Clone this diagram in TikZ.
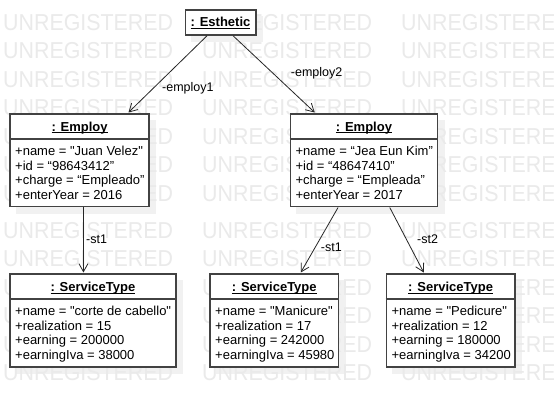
\documentclass[tikz,border=0pt]{standalone}
\usepackage{fontspec}
\setmainfont{Liberation Sans}[Ligatures=TeXOff]
\usetikzlibrary{arrows.meta}
\pgfdeclarelayer{bglayer}
\pgfdeclarelayer{shadowlayer}
\pgfdeclarelayer{wmlayer}
\pgfsetlayers{bglayer,shadowlayer,wmlayer,main}
\definecolor{wmgray}{RGB}{234,234,234}
\definecolor{shadowgray}{RGB}{241,241,241}
\definecolor{boxline}{RGB}{66,66,66}
\newcommand\ulbox[1]{\setbox0\hbox{#1}\rlap{\rule[-1.9pt]{\wd0}{0.9pt}}\box0}
\tikzset{
  objbox/.style={draw=boxline, line width=1.5pt, fill=white, inner sep=0pt, anchor=north west},
  sepline/.style={draw=boxline, line width=1.5pt},
  titletext/.style={font=\fontsize{13}{15}\selectfont\bfseries, inner sep=0pt, anchor=base},
  attr/.style={font=\fontsize{13}{15}\selectfont, inner sep=0pt, anchor=base west},
  lbl/.style={font=\fontsize{12.5}{15}\selectfont, inner sep=0pt, anchor=base west},
  link/.style={draw=black!85, line width=0.8pt, -{Straight Barb[length=8pt,width=9pt]}},
  wm/.style={font=\fontsize{23}{23}\selectfont, text=wmgray, inner sep=0pt, anchor=west},
  shadowbox/.style={fill=shadowgray},
}
\begin{document}
\begin{tikzpicture}[x=1pt,y=-1pt]
\useasboundingbox (0,0) rectangle (554,406);
\clip (0,0) rectangle (554,406);
\begin{pgfonlayer}{bglayer}
\fill[white] (0,0) rectangle (554,406);
\end{pgfonlayer}

% watermark
\begin{pgfonlayer}{wmlayer}
\foreach \r in {0,...,6}{
  \foreach \c in {0,1,2}{
    \node[wm] (wma-\r-\c) at ({3+199*\c},{22.5+28.5*\r}) {\scalebox{0.93}[1]{UNREGISTERED}};
  }
}
\foreach \r in {0,...,5}{
  \foreach \c in {0,1,2}{
    \node[wm] (wmb-\r-\c) at ({3+199*\c},{230.5+28.5*\r}) {\scalebox{0.93}[1]{UNREGISTERED}};
  }
}
\end{pgfonlayer}

% boxes
\node[objbox, minimum width=70.5pt, minimum height=25pt] (esth) at (184.5,9.3) {};
\node[objbox, minimum width=139pt, minimum height=92.7pt] (emp1) at (9.3,113.3) {};
\node[objbox, minimum width=147pt, minimum height=92.7pt] (emp2) at (289.7,113.3) {};
\node[objbox, minimum width=165.7pt, minimum height=92.7pt] (st1) at (9.3,273.3) {};
\node[objbox, minimum width=128.4pt, minimum height=92.7pt] (st2) at (209.3,273.3) {};
\node[objbox, minimum width=128.3pt, minimum height=92.7pt] (st3) at (385.7,273.3) {};

% shadows
\begin{pgfonlayer}{shadowlayer}
\foreach \b in {esth,emp1,emp2,st1,st2,st3}{
  \fill[shadowbox] ([xshift=6.5pt,yshift=-6.5pt]\b.north west) rectangle ([xshift=6.5pt,yshift=-6.5pt]\b.south east);
}
\end{pgfonlayer}

% header separators
\foreach \b in {emp1,emp2,st1,st2,st3}{
  \draw[sepline] ([yshift=-25.5pt]\b.north west) -- ([yshift=-25.5pt]\b.north east);
}

% titles
\node[titletext] (esth-t) at ([yshift=-17.6pt]esth.north) {\ulbox{: Esthetic}};
\node[titletext] (emp1-t) at ([yshift=-17.8pt]emp1.north) {\ulbox{: Employ}};
\node[titletext] (emp2-t) at ([yshift=-17.8pt]emp2.north) {\ulbox{: Employ}};
\node[titletext] (st1-t) at ([yshift=-18.2pt]st1.north) {\ulbox{: ServiceType}};
\node[titletext] (st2-t) at ([yshift=-18.2pt]st2.north) {\ulbox{: ServiceType}};
\node[titletext] (st3-t) at ([yshift=-18.2pt]st3.north) {\ulbox{: ServiceType}};

% attributes Employ 1
\node[attr] (emp1-a1) at ([xshift=5.7pt,yshift=52.2pt]emp1.south west) {+name = "Juan Velez"};
\node[attr] (emp1-a2) at ([xshift=5.7pt,yshift=37.4pt]emp1.south west) {+id = “98643412”};
\node[attr] (emp1-a3) at ([xshift=5.7pt,yshift=22.6pt]emp1.south west) {+charge = “Empleado”};
\node[attr] (emp1-a4) at ([xshift=5.7pt,yshift=7.8pt]emp1.south west) {+enterYear = 2016};
% attributes Employ 2
\node[attr] (emp2-a1) at ([xshift=5.7pt,yshift=52.2pt]emp2.south west) {+name = “Jea Eun Kim”};
\node[attr] (emp2-a2) at ([xshift=5.7pt,yshift=37.4pt]emp2.south west) {+id = “48647410”};
\node[attr] (emp2-a3) at ([xshift=5.7pt,yshift=22.6pt]emp2.south west) {+charge = “Empleada”};
\node[attr] (emp2-a4) at ([xshift=5.7pt,yshift=7.8pt]emp2.south west) {+enterYear = 2017};
% attributes ServiceType 1
\node[attr] (st1-a1) at ([xshift=5.7pt,yshift=52.2pt]st1.south west) {+name = "corte de cabello"};
\node[attr] (st1-a2) at ([xshift=5.7pt,yshift=37.4pt]st1.south west) {+realization = 15};
\node[attr] (st1-a3) at ([xshift=5.7pt,yshift=22.6pt]st1.south west) {+earning = 200000};
\node[attr] (st1-a4) at ([xshift=5.7pt,yshift=7.8pt]st1.south west) {+earningIva = 38000};
% attributes ServiceType 2
\node[attr] (st2-a1) at ([xshift=5.7pt,yshift=52.2pt]st2.south west) {+name = "Manicure"};
\node[attr] (st2-a2) at ([xshift=5.7pt,yshift=37.4pt]st2.south west) {+realization = 17};
\node[attr] (st2-a3) at ([xshift=5.7pt,yshift=22.6pt]st2.south west) {+earning = 242000};
\node[attr] (st2-a4) at ([xshift=5.7pt,yshift=7.8pt]st2.south west) {+earningIva = 45980};
% attributes ServiceType 3
\node[attr] (st3-a1) at ([xshift=5.7pt,yshift=52.2pt]st3.south west) {+name = "Pedicure"};
\node[attr] (st3-a2) at ([xshift=5.7pt,yshift=37.4pt]st3.south west) {+realization = 12};
\node[attr] (st3-a3) at ([xshift=5.7pt,yshift=22.6pt]st3.south west) {+earning = 180000};
\node[attr] (st3-a4) at ([xshift=5.7pt,yshift=7.8pt]st3.south west) {+earningIva = 34200};

% connectors
\draw[link] ([xshift=-13.5pt]esth.south) -- ([xshift=48.9pt,yshift=0.8pt]emp1.north);
\draw[link] ([xshift=12.6pt]esth.south) -- ([xshift=-49.2pt,yshift=0.8pt]emp2.north);
\draw[link] ([xshift=3.9pt]emp1.south) -- ([xshift=-9.45pt,yshift=0.8pt]st1.north);
\draw[link] ([xshift=-25.9pt]emp2.south) -- ([xshift=26.5pt,yshift=0.8pt]st2.north);
\draw[link] ([xshift=25.8pt]emp2.south) -- ([xshift=-26.85pt,yshift=0.8pt]st3.north);

% labels
\node[lbl] (l-employ1) at (162,91.5) {-employ1};
\node[lbl] (l-employ2) at (290.7,76.5) {-employ2};
\node[lbl] (l-st1a) at (86,243.5) {-st1};
\node[lbl] (l-st1b) at (320.7,251.5) {-st1};
\node[lbl] (l-st2) at (417,243.5) {-st2};
\end{tikzpicture}
\end{document}
